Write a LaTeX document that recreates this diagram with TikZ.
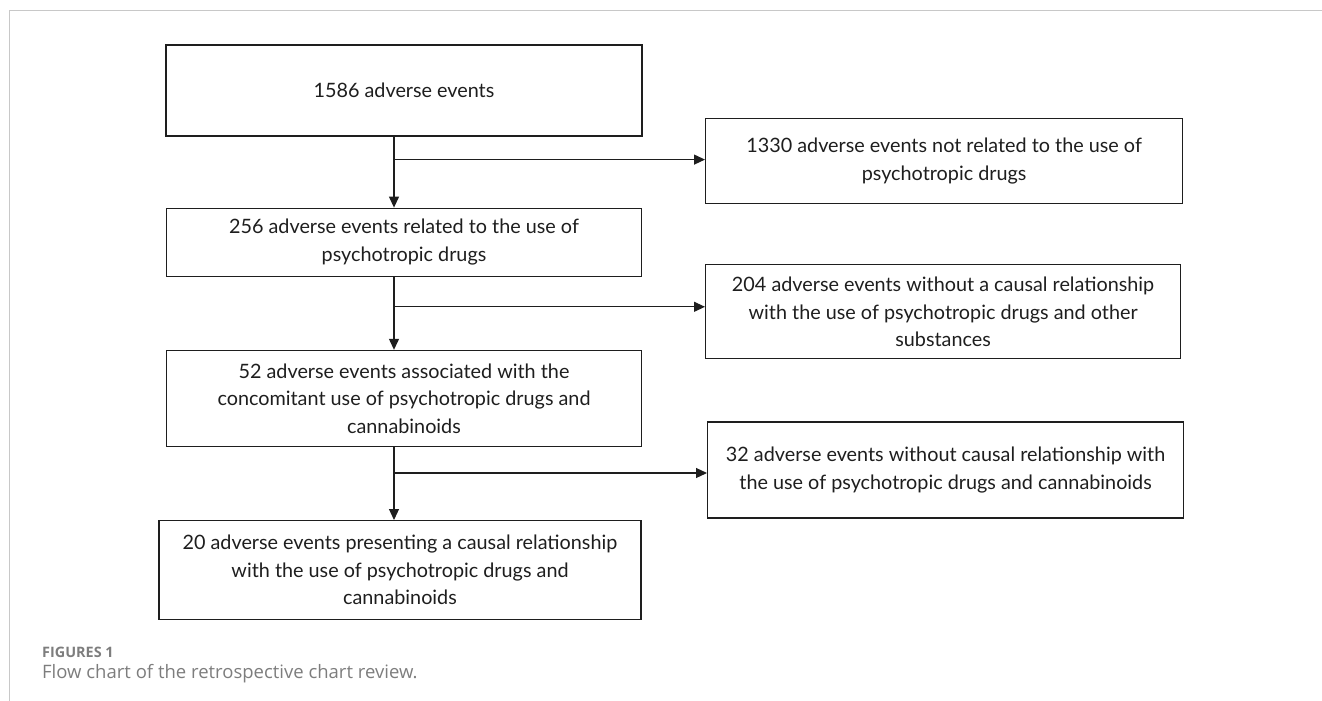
\documentclass[tikz,border=0pt]{standalone}
\usepackage{fontspec}
\setmainfont{Lato}
\newfontfamily\capfont{Open Sans}
\usetikzlibrary{positioning,calc,arrows.meta}
\definecolor{framegray}{RGB}{200,200,200}
\definecolor{capgray}{RGB}{125,125,125}
\definecolor{ink}{RGB}{30,30,30}

\begin{document}
\begin{tikzpicture}[x=1pt,y=1pt,
  box/.style={draw=ink,line width=1.2pt,text=ink,align=center,inner sep=0pt,
    font=\fontsize{19.8}{27.5}\selectfont},
  flow/.style={draw=ink,line width=1.2pt,-{Triangle[length=11pt,width=10pt]}}]
 \useasboundingbox (0,0) rectangle (1322,-701);
 \draw[framegray,line width=1pt] (1322,-11) -| (9,-701);
 % main column
 \node[box,minimum width=476pt,minimum height=91pt] (ALL) at (404,-90.5)
  {1586 adverse events};
 \node[box,minimum width=475pt,minimum height=68pt,below=71pt of ALL] (PSY)
  {256 adverse events related to the use of\\ psychotropic drugs};
 \node[box,minimum width=475pt,minimum height=96pt,below=73pt of PSY] (CON)
  {52 adverse events associated with the\\ concomitant use of psychotropic drugs and\\ cannabinoids};
 \node[box,minimum width=482pt,minimum height=99pt,below=73pt of CON,xshift=-4pt] (CAU)
  {20 adverse events presenting a causal relationship\\ with the use of psychotropic drugs and\\ cannabinoids};
 % branch points on the spine
 \coordinate[below=23pt of ALL.south,xshift=-10pt] (B1);
 \coordinate[below=30pt of PSY.south,xshift=-10pt] (B2);
 \coordinate[below=26pt of CON.south,xshift=-10pt] (B3);
 % excluded events
 \node[box,minimum width=477pt,minimum height=85pt,right=311pt of B1,yshift=-1.5pt] (NPS)
  {1330 adverse events not related to the use of\\ psychotropic drugs};
 \node[box,minimum width=475pt,minimum height=94pt,right=311pt of B2,yshift=-5pt] (NCR)
  {204 adverse events without a causal relationship\\ with the use of psychotropic drugs and other\\ substances};
 \node[box,minimum width=476pt,minimum height=96pt,right=313pt of B3,yshift=3pt] (NCC)
  {32 adverse events without causal relationship with\\ the use of psychotropic drugs and cannabinoids};
 \draw[flow] ([xshift=-10pt]ALL.south) -- ([xshift=-10pt]ALL.south |- PSY.north);
 \draw[flow] ([xshift=-10pt]PSY.south) -- ([xshift=-10pt]PSY.south |- CON.north);
 \draw[flow] ([xshift=-10pt]CON.south) -- ([xshift=-10pt]CON.south |- CAU.north);
 \draw[flow] (B1) -- (B1 -| NPS.west);
 \draw[flow] (B2) -- (B2 -| NCR.west);
 \draw[flow] (B3) -- (B3 -| NCC.west);
 % caption
 \node[anchor=base west,inner sep=0pt,text=capgray,font=\capfont\bfseries\fontsize{14.4}{16}\selectfont] (FIG) at (42,-657) {FIGURES 1};
 \node[anchor=base west,inner sep=0pt,text=capgray,font=\capfont\fontsize{18.5}{20}\selectfont] (CAP) at (42,-678) {Flow chart of the retrospective chart review.};
\end{tikzpicture}
\end{document}
